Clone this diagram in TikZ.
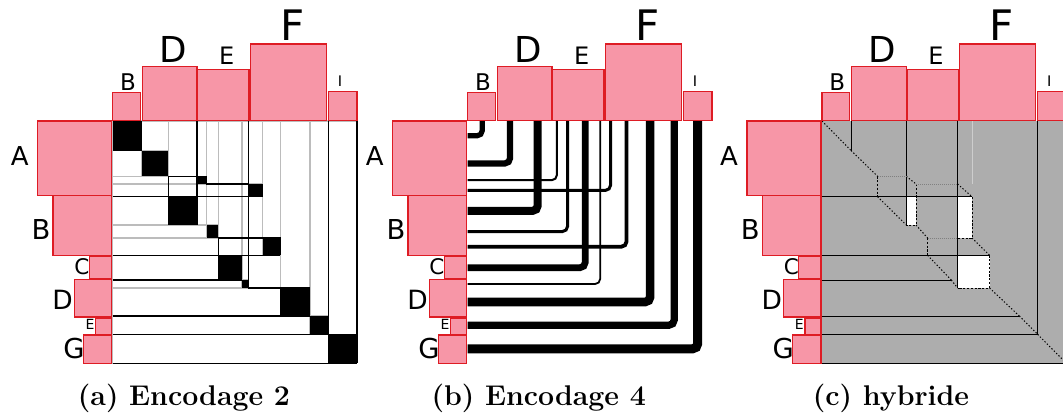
\documentclass[tikz,border=0pt]{standalone}
\usepackage{fontspec}
\newfontfamily\labfont{DejaVu Sans}
\definecolor{pinkfill}{RGB}{247,150,167}
\definecolor{pinkline}{RGB}{222,28,36}
\definecolor{matgray}{RGB}{173,173,173}
\definecolor{bargray}{RGB}{188,188,188}
\definecolor{faintgray}{RGB}{205,205,205}
\newcommand{\varlist}{112.7/141.7/121/150.5/5.2, 141.7/168.3/150.5/176.3/6.2, 197/206.7/176.3/184/2, 248.3/262.7/184/196.7/3, 168.3/197/196.7/225/8, 206.7/218.3/225/238/3, 262.7/280.3/238/255.3/3.8, 218.3/242/255.3/280/6.7, 242/248.3/280/288/1.8, 280.3/310/288/316/8.6, 310/328.3/316/334.3/7.2, 328.3/357/334.3/363.3/9}
\newcommand{\lab}[5]{\node[labnode, font={\labfont\fontsize{#4}{#4}\selectfont}] (#1) at (#2,#3) {#5};}
\newcommand{\drawgroups}[1]{%
  \draw[pinkbox] (112.7,92.7) rectangle (140.3,120.7);
  \draw[pinkbox] (142.3,66.3) rectangle (197,120.7);
  \draw[pinkbox] (197.7,69.3) rectangle (249,120.7);
  \draw[pinkbox] (250.3,44) rectangle (326.3,120.7);
  \draw[pinkbox] (328.3,91.7) rectangle (357,120.7);
  \draw[pinkbox] (37.7,121) rectangle (111.7,195.3);
  \draw[pinkbox] (53,195.7) rectangle (111.7,255.3);
  \draw[pinkbox] (89.3,256.3) rectangle (111.7,278.7);
  \draw[pinkbox] (74.3,279.7) rectangle (111.7,317);
  \draw[pinkbox] (95.7,318) rectangle (111.7,334.3);
  \draw[pinkbox] (83.3,335) rectangle (111.7,363.3);
  \lab{#1tB}{128}{90.7}{23}{B}
  \lab{#1tD}{173}{62.7}{35.7}{D}
  \lab{#1tE}{226.7}{64.3}{24}{E}
  \lab{#1tF}{292.5}{40.7}{42}{F}
  \lab{#1tI}{340}{86.7}{14.6}{I}
  \lab{#1lA}{19.7}{165.7}{26}{A}
  \lab{#1lB}{41}{239.3}{27.4}{B}
  \lab{#1lC}{82}{274}{21.5}{C}
  \lab{#1lD}{62.5}{309.3}{26.5}{D}
  \lab{#1lE}{90}{329.3}{14}{E}
  \lab{#1lG}{74}{358.3}{27.4}{G}
}
\newcommand{\grouplines}{%
  \draw[grpline] (141.7,121) -- (141.7,150.5);
  \draw[grpline] (197,121) -- (197,225);
  \draw[grpline] (248.3,121) -- (248.3,288);
  \draw[grpline] (112.7,196.7) -- (262.7,196.7);
  \draw[grpline] (112.7,255.3) -- (280.3,255.3);
  \draw[grpline] (112.7,280) -- (242,280);
  \draw[grpline] (112.7,316) -- (310,316);
  \draw[grpline] (112.7,334.3) -- (328.3,334.3);
  \draw[grpline] (112.7,363.3) -- (357,363.3);
}
\begin{document}
\begin{tikzpicture}[x=1pt,y=-1pt,
  pinkbox/.style={fill=pinkfill,draw=pinkline,line width=1.3pt},
  labnode/.style={anchor=base,inner sep=0pt,text=black},
  captext/.style={anchor=base,inner sep=0pt,font=\fontsize{28.5}{30}\selectfont\bfseries},
  barline/.style={draw=bargray,line width=1.2pt},
  blk/.style={draw=black,line width=1.5pt},
  grpline/.style={draw=black,line width=1.5pt},
  diagdot/.style={draw=black,line width=1pt,dash pattern=on 1.3pt off 2pt},
  dashseg/.style={draw=black,line width=1pt,dash pattern=on 2.2pt off 1.6pt},
  graydot/.style={draw=gray,line width=1pt,dash pattern=on 1pt off 1pt}]
\clip (0,0) rectangle (1063,416);
\fill[white] (0,0) rectangle (1063,416);
% ---------------- panel (a)
\begin{scope}
  \foreach \cl/\cr/\rt/\rb/\w in \varlist {
    \draw[barline] (112.7,\rt) rectangle (\cl,\rb);
    \draw[barline] (\cl,121) rectangle (\cr,\rt);
  }
  \foreach \cl/\cr/\rt/\rb/\w in \varlist {
    \fill[black] (\cl,\rt) rectangle (\cr,\rb);
  }
  \grouplines
  \draw[grpline] (328.3,121) -- (328.3,363.3);
  \draw[grpline] (357,121) -- (357,363.3);
  \draw[blk] (168.3,196.7) -- (168.3,176.3) -- (206.7,176.3) -- (206.7,184) -- (248.3,184);
  \draw[blk] (218.3,255.3) -- (218.3,238) -- (280.3,238) -- (280.3,255.3);
  \draw[blk] (248.3,288) -- (310,288);
  \drawgroups{a}
  \node[captext] (capa) at (184,405) {(a) Encodage 2};
\end{scope}
% ---------------- panel (b)
\begin{scope}[xshift=355pt]
  \foreach \cl/\cr/\rt/\rb/\w in \varlist {
    \draw[line width=\w pt, rounded corners=5pt] (112.7,{(\rt+\rb)/2}) -| ({(\cl+\cr)/2},121);
  }
  \drawgroups{b}
  \node[captext] (capb) at (183.7,405) {(b) Encodage 4};
\end{scope}
% ---------------- panel (c)
\begin{scope}[xshift=709.3pt]
  \fill[matgray] (112.7,121) rectangle (357,363.3);
  \fill[white] (197,196.7) rectangle (206.7,225);
  \fill[white] (248.3,196.7) rectangle (262.7,238);
  \fill[white] (248.3,255.3) rectangle (280.3,288);
  \draw[faintgray,line width=0.8pt] (262.7,121) -- (262.7,184);
  \begin{scope}[grpline/.style={draw=black,line width=1pt}]
    \grouplines
    \draw[grpline] (328.3,121) -- (328.3,334.3);
  \end{scope}
  \foreach \cl/\cr/\rt/\rb/\w in \varlist {
    \draw[diagdot] (\cl,\rt) -- (\cr,\rb);
  }
  \draw[dashseg] (168.3,176.3) -- (168.3,196.7);
  \draw[dashseg] (206.7,184) -- (206.7,225) -- (197,225);
  \draw[dashseg] (262.7,196.7) -- (262.7,238) -- (248.3,238);
  \draw[dashseg] (218.3,238) -- (218.3,255.3);
  \draw[dashseg] (280.3,255.3) -- (280.3,288) -- (248.3,288);
  \draw[graydot] (168.3,176.3) -- (197,176.3);
  \draw[graydot] (206.7,184) -- (248.3,184);
  \draw[graydot] (218.3,238) -- (248.3,238);
  \drawgroups{c}
  \node[captext] (capc) at (181.7,405) {(c) hybride};
\end{scope}
\end{tikzpicture}
\end{document}
